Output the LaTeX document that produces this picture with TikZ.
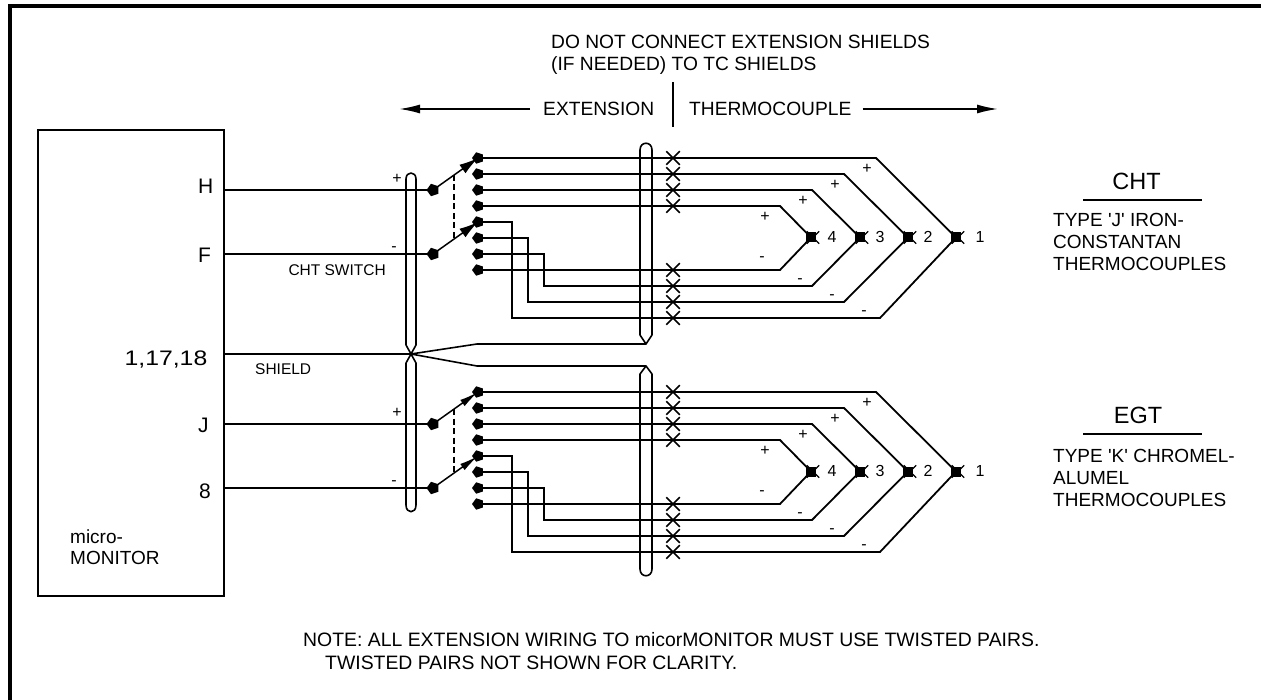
\documentclass[tikz,border=0pt]{standalone}
\usepackage{fontspec}
\setmainfont{Liberation Sans}[Ligatures=TeXOff]
\usetikzlibrary{shapes.geometric,shapes.misc,arrows.meta}
\newcommand{\fpx}[2]{\fontsize{#1}{#2}\selectfont}
\tikzset{
  x=1pt,y=-1pt,
  wire/.style={line width=1.8pt,line join=miter},
  frameline/.style={line width=4pt},
  shieldline/.style={line width=1.6pt,line join=round},
  boxstyle/.style={draw,line width=2pt,rectangle,inner sep=0pt,anchor=north west,minimum width=186pt,minimum height=466pt},
  contact/.style={regular polygon,regular polygon sides=5,shape border rotate=90,fill=black,inner sep=0pt,minimum size=12pt},
  pivot/.style={regular polygon,regular polygon sides=5,shape border rotate=90,fill=black,inner sep=0pt,minimum size=13pt},
  xmark/.style={cross out,draw,line width=1.5pt,inner sep=0pt,minimum size=12pt},
  junction/.style={rectangle,fill=black,inner sep=0pt,minimum size=10pt},
  junctionx/.style={cross out,draw,line width=1.3pt,inner sep=0pt,minimum size=11pt},
  gang/.style={line width=1.6pt,dash pattern=on 6pt off 3.5pt},
  bigtxt/.style={inner sep=0pt,font=\fpx{21}{24}},
  labeltxt/.style={inner sep=0pt,font=\fpx{23.5}{24}},
  txt/.style={inner sep=0pt,font=\fpx{19.2}{22}},
  notetxt/.style={inner sep=0pt,font=\fpx{19.4}{23}},
  typetxt/.style={inner sep=0pt,font=\fpx{19}{22.3},align=left,anchor=west},
  smalltxt/.style={inner sep=0pt,font=\fpx{15.5}{18}},
  sign/.style={inner sep=0pt,font=\fpx{16}{18}},
  dimarrow/.style={line width=1.8pt,-{Latex[length=21pt,width=9pt]}}
}
\begin{document}
\begin{tikzpicture}
\useasboundingbox (0,0) rectangle (1261,700);
\fill[white] (0,0) rectangle (1261,700);
\draw[frameline] (10,700) -- (10,6) -- (1261,6);

\node[boxstyle] (box) at (37,129) {};

% texts on the monitor box
\node[bigtxt,anchor=base west] (tH) at (198,194) {H};
\node[bigtxt,anchor=base west] (tF) at (198,263) {F};
\node[bigtxt,anchor=base east] (t1) at (207.5,366) {\scalebox{1.18}[1]{1,17,18}};
\node[bigtxt,anchor=base west] (tJ) at (198,432) {J};
\node[bigtxt,anchor=base west] (t8) at (199,498) {8};
\node[inner sep=0pt,font=\fpx{19}{21.5},align=left,anchor=west] (tM) at (70,547) {micro-\\MONITOR};

\foreach \dy/\swname/\swy/\hw in {0/CHT SWITCH/275/10.5,234/EGT SWITCH/510/7.5} {
\begin{scope}[shift={(0,\dy)},name prefix=g\dy-]
  % contacts, pivots, crosses
  \foreach \i in {1,...,8} {
    \node[contact] (c\i) at (478,{158+16*(\i-1)}) {};
  }
  \node[pivot] (p1) at (433,190) {};
  \node[pivot] (p2) at (433,254) {};
  \foreach \i/\yy in {1/158,2/174,3/190,4/206,5/270,6/286,7/302,8/318} {
    \node[xmark] (x\i) at (673,\yy) {};
  }
  % junctions
  \foreach \i/\xx in {1/956,2/908,3/860,4/811} {
    \node[junctionx] (jx\i) at (\xx+2,237.5) {};
    \node[junction] (j\i) at (\xx,237.5) {};
  }
  % switch arms
  \draw[line width=1.5pt,-{Latex[length=19pt,width=\hw pt]}] (p1.center) -- (c1.center);
  \draw[line width=1.5pt,-{Latex[length=19pt,width=\hw pt]}] (p2.center) -- (c5.center);
  \coordinate (g1) at (454,175);
  \coordinate (g2) at (454,238);
  \draw[gang] (g1) -- (g2);
  % plus wires
  \draw[wire] (c1.center) -- (x1.center) -- (876,158) -- (j1.center);
  \draw[wire] (c2.center) -- (x2.center) -- (844,174) -- (j2.center);
  \draw[wire] (c3.center) -- (x3.center) -- (812,190) -- (j3.center);
  \draw[wire] (c4.center) -- (x4.center) -- (780,206) -- (j4.center);
  % minus wires
  \draw[wire] (c5.center) -- (512,222) -- (512,318) -- (x8.center) -- (880,318) -- (j1.center);
  \draw[wire] (c6.center) -- (528,238) -- (528,302) -- (x7.center) -- (844,302) -- (j2.center);
  \draw[wire] (c7.center) -- (544,254) -- (544,286) -- (x6.center) -- (812,286) -- (j3.center);
  \draw[wire] (c8.center) -- (x5.center) -- (780,270) -- (j4.center);
  % polarity and numbers
  \foreach \xx/\yy in {867/169,835/185,803/201,765/217,397/179} {
    \node[sign] (pl\xx) at (\xx,\yy) {+};
  }
  \foreach \xx/\yy in {864/313,832/297,800/281,762/259,394/249} {
    \node[sign] (mi\xx) at (\xx,\yy) {-};
  }
  \foreach \n/\xx in {4/832,3/880,2/928,1/980} {
    \node[sign] (num\n) at (\xx,237) {\n};
  }
  \node[smalltxt,anchor=east] (sw) at (386,\swy-5) {\swname};
\end{scope}
}

% terminal wires
\draw[wire] (box.east |- g0-p1) -- (g0-p1.center);
\draw[wire] (box.east |- g0-p2) -- (g0-p2.center);
\draw[wire] (box.east |- g234-p1) -- (g234-p1.center);
\draw[wire] (box.east |- g234-p2) -- (g234-p2.center);

% shields
\coordinate (xpt) at (411,354);
\coordinate (sup) at (646,344);
\coordinate (slo) at (646,366);
\draw[wire] (box.east |- xpt) -- (xpt);
\draw[shieldline] (xpt) -- (477,344) -- (sup);
\draw[shieldline] (xpt) -- (477,366) -- (slo);
\draw[shieldline] (xpt) -- (406,345) -- (406,179) .. controls (406,171) and (416,171) .. (416,179) -- (416,345) -- cycle;
\draw[shieldline] (xpt) -- (406,363) -- (406,505) .. controls (406,514) and (416,514) .. (416,505) -- (416,363) -- cycle;
\draw[shieldline] (sup) -- (640,335) -- (640,150) .. controls (640,141) and (652,141) .. (652,150) -- (652,335) -- cycle;
\draw[shieldline] (slo) -- (640,374) -- (640,569) .. controls (640,578) and (652,578) .. (652,569) -- (652,374) -- cycle;

\node[smalltxt,anchor=base west] (shieldt) at (255,375) {SHIELD};

% header
\node[txt,anchor=west,align=left] (dont) at (551,55) {DO NOT CONNECT EXTENSION SHIELDS\\(IF NEEDED) TO TC SHIELDS};
\node[txt,anchor=west] (ext) at (543,109) {EXTENSION};
\node[txt,anchor=west] (tc) at (689,109) {THERMOCOUPLE};
\coordinate (divt) at (673,82);
\coordinate (divb) at (673,127);
\draw[wire] (divt) -- (divb);
\coordinate (al) at (399,109);
\coordinate (ar) at (998,109);
\draw[dimarrow] (ext.west) ++(-13,0) -- (al);
\draw[dimarrow] (tc.east) ++(11,0) -- (ar);

% right hand labels
\node[labeltxt,anchor=base] (cht) at (1136.5,190) {CHT};
\coordinate (cl) at (1083,200);
\coordinate (cr) at (1202,200);
\draw[wire] (cl) -- (cr);
\node[typetxt] (chtd) at (1053,242) {TYPE 'J' IRON-\\CONSTANTAN\\THERMOCOUPLES};
\node[labeltxt,anchor=base] (egt) at (1138,424) {EGT};
\coordinate (el) at (1083,434);
\coordinate (er) at (1202,434);
\draw[wire] (el) -- (er);
\node[typetxt] (egtd) at (1053,478) {TYPE 'K' CHROMEL-\\ALUMEL\\THERMOCOUPLES};

% note
\node[notetxt,anchor=west,align=left] (note) at (303,651.5) {NOTE: ALL EXTENSION WIRING TO micorMONITOR MUST USE TWISTED PAIRS.\\\hspace*{22pt}TWISTED PAIRS NOT SHOWN FOR CLARITY.};
\end{tikzpicture}
\end{document}
